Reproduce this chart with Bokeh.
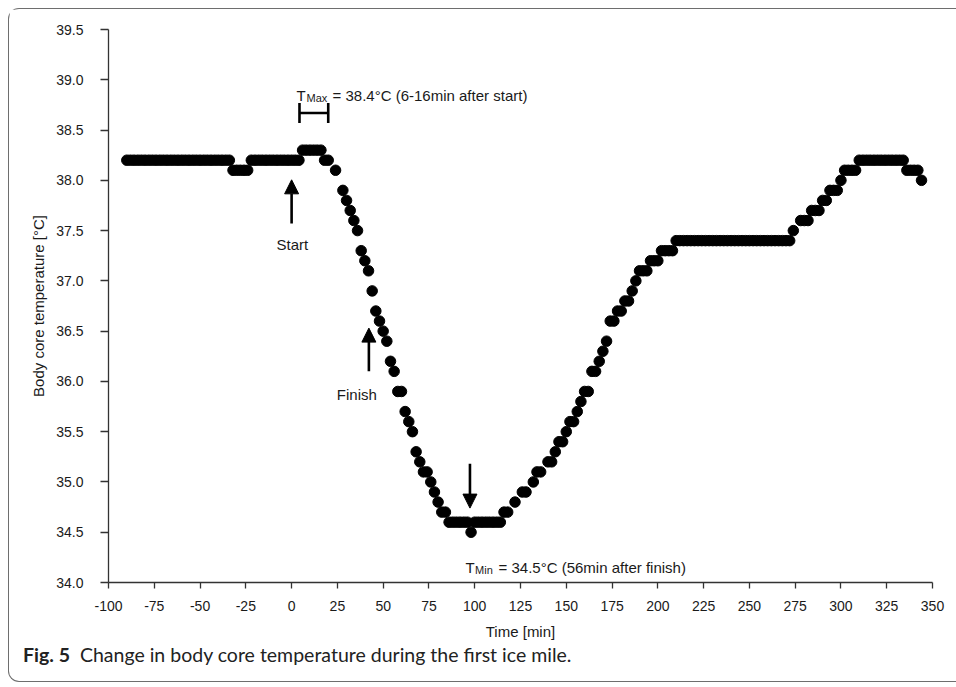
from bokeh.plotting import figure
from bokeh.layouts import column
from bokeh.models import (ColumnDataSource, Range1d, FixedTicker, NumeralTickFormatter,
                          Label, Arrow, NormalHead, TeeHead, Div)
from bokeh.embed import file_html
from bokeh.resources import INLINE

# ---------------- data ----------------
# before the start of the swim
pre_time = [-90, -88, -86, -84, -82, -80, -78, -76, -74, -72, -70, -68, -66, -64, -62,
            -60, -58, -56, -54, -52, -50, -48, -46, -44, -42, -40, -38, -36, -34,
            -32, -30, -28, -26, -24,
            -22, -20, -18, -16, -14, -12, -10, -8, -6, -4, -2, 0, 2, 4]
pre_temp = [38.2, 38.2, 38.2, 38.2, 38.2, 38.2, 38.2, 38.2, 38.2, 38.2, 38.2, 38.2, 38.2, 38.2, 38.2,
            38.2, 38.2, 38.2, 38.2, 38.2, 38.2, 38.2, 38.2, 38.2, 38.2, 38.2, 38.2, 38.2, 38.2,
            38.1, 38.1, 38.1, 38.1, 38.1,
            38.2, 38.2, 38.2, 38.2, 38.2, 38.2, 38.2, 38.2, 38.2, 38.2, 38.2, 38.2, 38.2, 38.2]

# peak and cooling phase
cool_time = [6, 8, 10, 12, 14, 16, 18, 20, 24, 28, 30, 32, 34, 36, 38, 40, 42, 44, 46, 48,
             50, 52, 54, 56, 58, 60, 62, 64, 66, 68, 70, 72, 74, 76, 78, 80, 82, 84,
             86, 88, 90, 92, 94, 96, 98, 100, 102, 104, 106, 108, 110, 112, 114]
cool_temp = [38.3, 38.3, 38.3, 38.3, 38.3, 38.3, 38.2, 38.2, 38.1, 37.9, 37.8, 37.7, 37.6, 37.5,
             37.3, 37.2, 37.1, 36.9, 36.7, 36.6, 36.5, 36.4, 36.2, 36.1, 35.9, 35.9, 35.7, 35.6,
             35.5, 35.3, 35.2, 35.1, 35.1, 35.0, 34.9, 34.8, 34.7, 34.7,
             34.6, 34.6, 34.6, 34.6, 34.6, 34.6, 34.5, 34.6, 34.6, 34.6, 34.6, 34.6, 34.6, 34.6, 34.6]

# rewarming phase
warm_time = [116, 118, 122, 126, 128, 132, 134, 136, 140, 142, 144, 146, 148, 150, 152, 154,
             156, 158, 160, 162, 164, 166, 168, 170, 172, 174, 176, 178, 180, 182, 184, 186,
             188, 190, 192, 194, 196, 198, 200, 202, 204, 206, 208]
warm_temp = [34.7, 34.7, 34.8, 34.9, 34.9, 35.0, 35.1, 35.1, 35.2, 35.2, 35.3, 35.4, 35.4, 35.5,
             35.6, 35.6, 35.7, 35.8, 35.9, 35.9, 36.1, 36.1, 36.2, 36.3, 36.4, 36.6, 36.6, 36.7,
             36.7, 36.8, 36.8, 36.9, 37.0, 37.1, 37.1, 37.1, 37.2, 37.2, 37.2, 37.3, 37.3, 37.3, 37.3]

# plateau and late phase
late_time = [210, 212, 214, 216, 218, 220, 222, 224, 226, 228, 230, 232, 234, 236, 238, 240,
             242, 244, 246, 248, 250, 252, 254, 256, 258, 260, 262, 264, 266, 268, 270, 272,
             274, 278, 280, 282, 284, 286, 288, 290, 292, 294, 296, 298, 300,
             302, 304, 306, 308, 310, 312, 314, 316, 318, 320, 322, 324, 326, 328, 330, 332, 334,
             336, 338, 340, 342, 344]
late_temp = [37.4, 37.4, 37.4, 37.4, 37.4, 37.4, 37.4, 37.4, 37.4, 37.4, 37.4, 37.4, 37.4, 37.4,
             37.4, 37.4, 37.4, 37.4, 37.4, 37.4, 37.4, 37.4, 37.4, 37.4, 37.4, 37.4, 37.4, 37.4,
             37.4, 37.4, 37.4, 37.4,
             37.5, 37.6, 37.6, 37.6, 37.7, 37.7, 37.7, 37.8, 37.8, 37.9, 37.9, 37.9, 38.0,
             38.1, 38.1, 38.1, 38.1, 38.2, 38.2, 38.2, 38.2, 38.2, 38.2, 38.2, 38.2, 38.2, 38.2,
             38.2, 38.2, 38.2,
             38.1, 38.1, 38.1, 38.1, 38.0]

x_ticks = [-100, -75, -50, -25, 0, 25, 50, 75, 100, 125, 150, 175, 200, 225, 250, 275, 300, 325, 350]
y_ticks = [34.0, 34.5, 35.0, 35.5, 36.0, 36.5, 37.0, 37.5, 38.0, 38.5, 39.0, 39.5]

time_all = pre_time + cool_time + warm_time + late_time
temp_all = pre_temp + cool_temp + warm_temp + late_temp
src = ColumnDataSource(data=dict(t=time_all, T=temp_all))

FONT = "Liberation Sans"

p = figure(width=947, height=636,
           x_range=Range1d(-100, 350), y_range=Range1d(34.0, 39.5),
           output_backend="svg", toolbar_location=None,
           min_border_left=99, min_border_right=24, min_border_top=20, min_border_bottom=63)
p.outline_line_color = None
p.xgrid.visible = False
p.ygrid.visible = False
p.background_fill_color = "white"
p.border_fill_color = "white"

for ax in (p.xaxis[0], p.yaxis[0]):
    ax.axis_line_color = "#333333"
    ax.axis_line_width = 1.3
    ax.major_tick_line_color = "#333333"
    ax.major_tick_line_width = 1.3
    ax.major_tick_in = 0
    ax.minor_tick_line_color = None
    ax.major_label_text_font = FONT
    ax.major_label_text_font_size = "14px"
    ax.major_label_text_color = "#1a1a1a"
    ax.axis_label_text_font = FONT
    ax.axis_label_text_font_size = "15px"
    ax.axis_label_text_font_style = "normal"
    ax.axis_label_text_color = "#1a1a1a"

p.xaxis.ticker = FixedTicker(ticks=x_ticks)
p.xaxis.formatter = NumeralTickFormatter(format="0")
p.xaxis.major_tick_out = 6
p.xaxis.major_label_standoff = 12
p.xaxis.axis_label = "Time [min]"
p.xaxis.axis_label_standoff = 9

p.yaxis.ticker = FixedTicker(ticks=y_ticks)
p.yaxis.formatter = NumeralTickFormatter(format="0.0")
p.yaxis.major_tick_out = 8
p.yaxis.major_label_standoff = 17
p.yaxis.axis_label = "Body core temperature [°C]"
p.yaxis.axis_label_standoff = 6

p.scatter(x="t", y="T", source=src, size=10.5, color="black", marker="circle")

# ---------------- annotations ----------------
def arrow(x, y0, y1):
    p.add_layout(Arrow(end=NormalHead(size=14, fill_color="black", line_color="black", line_width=1),
                       x_start=x, y_start=y0, x_end=x, y_end=y1,
                       line_color="black", line_width=2.6))

arrow(0, 37.57, 38.005)      # Start
arrow(42.2, 36.10, 36.53)    # Finish
arrow(97.4, 35.18, 34.74)    # T min

# T max bracket
p.add_layout(Arrow(start=TeeHead(size=20, line_width=2.6, line_color="black"),
                   end=TeeHead(size=20, line_width=2.6, line_color="black"),
                   x_start=4.3, y_start=38.67, x_end=20.0, y_end=38.67,
                   line_color="black", line_width=2.6))

def lab(x, y, text, size="15px", align="left", xoff=0, yoff=0):
    p.add_layout(Label(x=x, y=y, text=text, text_font=FONT, text_font_size=size,
                       text_align=align, text_baseline="alphabetic", x_offset=xoff, y_offset=yoff,
                       text_color="#1a1a1a"))

lab(0.4, 37.36, "Start", align="center")
lab(35.6, 35.87, "Finish", align="center")

# T_Max label
lab(2.7, 38.848, "T")
lab(2.7, 38.848, "Max", size="11px", xoff=10, yoff=-3)
lab(2.7, 38.848, "= 38.4°C (6-16min after start)", xoff=36)

# T_Min label
lab(95.0, 34.152, "T")
lab(95.0, 34.152, "Min", size="11px", xoff=9.5, yoff=-3)
lab(95.0, 34.152, "= 34.5°C (56min after finish)", xoff=33)

# caption
caption = Div(text='<span style="font-weight:bold">Fig.&nbsp;5</span>&nbsp;&nbsp;'
                   'Change in body core temperature during the first ice mile.',
              width=947, height=36,
              styles={"font-family": "Lato", "font-size": "19.5px", "color": "#222222",
                      "padding-left": "14px", "line-height": "20px", "margin": "0"})

layout = column(p, caption,
                styles={"margin": "8px 0 0 8px",
                        "border-left": "1px solid #6e6e6e",
                        "border-top": "1px solid #6e6e6e",
                        "border-bottom": "1px solid #6e6e6e",
                        "border-radius": "11px 0 0 11px"})

open("out.html", "w").write(file_html(layout, INLINE))
